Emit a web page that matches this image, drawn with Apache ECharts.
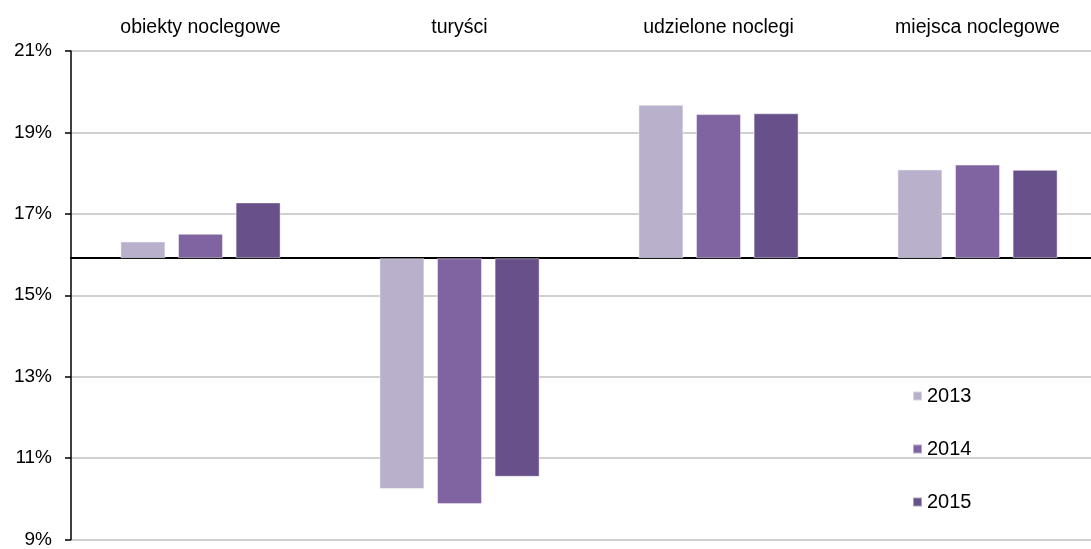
<!DOCTYPE html>
<html>
<head>
<meta charset="utf-8">
<script src="https://cdn.jsdelivr.net/npm/echarts@6/dist/echarts.min.js"></script>
<style>
html,body{margin:0;padding:0;background:#fff;overflow:hidden;}
#c{width:1107px;height:549px;}
</style>
</head>
<body>
<div id="c"></div>
<script>
const categories = ['obiekty noclegowe', 'turyści', 'udzielone noclegi', 'miejsca noclegowe'];
const seriesNames = ['2013', '2014', '2015'];
const values2013 = [16.32, 10.24, 19.68, 18.09];
const values2014 = [16.51, 9.87, 19.45, 18.21];
const values2015 = [17.28, 10.54, 19.47, 18.08];
const baseline = 15.91;
const yMin = 9, yMax = 21, yInterval = 2;
const colors = ['#B9B0CB', '#8064A2', '#68508A'];

const allValues = [values2013, values2014, values2015];
const font = 'Liberation Sans';

const chart = echarts.init(document.getElementById('c'), null, {renderer: 'canvas'});
chart.setOption({
  animation: false,
  color: colors,
  grid: {left: 71, right: 0, top: 51, bottom: 6, containLabel: false},
  legend: {
    orient: 'vertical',
    left: 907,
    top: 381,
    itemWidth: 9,
    itemHeight: 9,
    itemGap: 33,
    icon: 'rect',
    textStyle: {fontFamily: font, fontSize: 20, color: '#000'},
    data: seriesNames
  },
  xAxis: [
    {
      type: 'category',
      position: 'top',
      data: categories,
      axisLine: {show: false},
      axisTick: {show: false},
      axisLabel: {fontFamily: font, fontSize: 19.5, color: '#000', margin: 13}
    },
    {
      type: 'category',
      position: 'bottom',
      data: categories,
      axisLine: {show: true, onZero: true, onZeroAxisIndex: 1, lineStyle: {color: '#000', width: 2}},
      axisTick: {show: false},
      axisLabel: {show: false}
    }
  ],
  yAxis: [
    {
      type: 'value',
      min: yMin, max: yMax, interval: yInterval,
      axisLine: {show: true, lineStyle: {color: '#000', width: 1.5}},
      axisTick: {show: true, length: 6, lineStyle: {color: '#000', width: 1.5}},
      axisLabel: {fontFamily: font, fontSize: 19, color: '#000', margin: 19, formatter: '{value}%'},
      splitLine: {show: true, lineStyle: {color: '#C0C0C0', width: 1.5}}
    },
    {
      type: 'value',
      min: yMin - baseline, max: yMax - baseline,
      show: false,
      splitLine: {show: false}
    }
  ],
  series: allValues.map((vals, i) => ({
    name: seriesNames[i],
    type: 'bar',
    xAxisIndex: 0,
    yAxisIndex: 1,
    barWidth: 45,
    barGap: '28%',
    data: vals.map(v => +(v - baseline).toFixed(4)),
    itemStyle: {color: colors[i], borderColor: 'rgba(255,255,255,0.45)', borderWidth: 1}
  }))
});
</script>
</body>
</html>
